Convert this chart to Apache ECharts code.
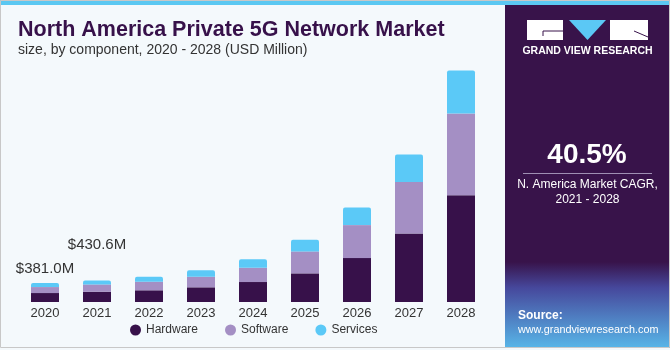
<!DOCTYPE html>
<html lang="en">
<head>
    <meta charset="UTF-8">
    <title>North America Private 5G Network Market</title>
    <script src="https://cdn.jsdelivr.net/npm/echarts@6/dist/echarts.min.js"></script>
    <style>
        html, body { margin: 0; padding: 0; background: #ffffff; }
    </style>
</head>
<body>
    <div id="main" style="width: 670px;height: 350px"></div>
    <script type="text/javascript">
        // values (USD Million)
        var years = ['2020', '2021', '2022', '2023', '2024', '2025', '2026', '2027', '2028'];
        var hardware = [180, 205, 235, 295, 401, 575, 882, 1377, 2145];
        var software = [120, 148, 172, 213, 287, 441, 662, 1035, 1638];
        var services = [81, 77.6, 100, 128, 168, 235, 355, 549, 868];
        var totalLabels = ['$381.0M', '$430.6M'];
        var labelDistance = [7, 28];

        var font = 'Liberation Sans, Arial, sans-serif';
        var myChart = echarts.init(document.getElementById('main'));

        // the top series carries the two total labels
        var servicesData = services.map(function (v, i) {
            if (i < totalLabels.length) {
                return {
                    value: v,
                    label: {
                        show: true,
                        position: 'top',
                        distance: labelDistance[i],
                        formatter: totalLabels[i],
                        color: '#333',
                        fontSize: 15,
                        fontFamily: font
                    }
                };
            }
            return v;
        });

        var option = {
            backgroundColor: '#f4f9fc',
            animation: false,
            title: {
                text: 'North America Private 5G Network Market',
                subtext: 'size, by component, 2020 - 2028 (USD Million)',
                left: 18,
                top: 20,
                padding: 0,
                itemGap: 0,
                textStyle: { color: '#37114a', fontSize: 21.5, fontWeight: 900, fontFamily: font, lineHeight: 20 },
                subtextStyle: { color: '#333', fontSize: 14, fontFamily: font, lineHeight: 16 }
            },
            legend: {
                left: 125,
                top: 319,
                icon: 'circle',
                itemWidth: 11,
                itemHeight: 11,
                itemGap: 27,
                textStyle: { color: '#333', fontSize: 12, fontFamily: font },
                data: ['Hardware', 'Software', 'Services']
            },
            grid: { left: 19, right: 183, top: 53, bottom: 48 },
            xAxis: {
                type: 'category',
                data: years,
                axisLine: { show: false },
                axisTick: { show: false },
                axisLabel: { color: '#333', fontSize: 13, margin: 5, fontFamily: font }
            },
            yAxis: {
                type: 'value',
                min: 0,
                max: 5000,
                show: false,
                splitLine: { show: false }
            },
            series: [
                { name: 'Hardware', type: 'bar', stack: 'total', barWidth: 28, data: hardware, itemStyle: { color: '#37114a' } },
                { name: 'Software', type: 'bar', stack: 'total', barWidth: 28, data: software, itemStyle: { color: '#a48fc4' } },
                { name: 'Services', type: 'bar', stack: 'total', barWidth: 28, data: servicesData, itemStyle: { color: '#5bc9f7', borderRadius: [2, 2, 0, 0] } }
            ],
            graphic: [
                // right side panel
                { type: 'rect', shape: { x: 505, y: 0, width: 165, height: 348 }, style: { fill: '#38134a' }, z: -1 },
                {
                    type: 'rect', shape: { x: 505, y: 262, width: 165, height: 86 }, z: -1,
                    style: {
                        fill: new echarts.graphic.LinearGradient(0, 0, 0, 1, [
                            { offset: 0, color: '#38134a' },
                            { offset: 0.3, color: '#46489c' },
                            { offset: 1, color: '#58b6e8' }
                        ])
                    }
                },
                // top stripe and frame
                { type: 'rect', shape: { x: 0, y: 0, width: 670, height: 5 }, style: { fill: '#5bc8f2' } },
                { type: 'rect', shape: { x: 0.5, y: 0.5, width: 669, height: 347 }, style: { fill: null, stroke: '#c8c8c8', lineWidth: 1 } },
                // logo
                { type: 'rect', shape: { x: 527, y: 20, width: 36, height: 20 }, style: { fill: '#ffffff' } },
                { type: 'polyline', shape: { points: [[543, 36], [543, 31], [563, 31]] }, style: { stroke: '#38134a', lineWidth: 1, fill: null } },
                { type: 'polygon', shape: { points: [[569, 20], [606, 20], [587.5, 40]] }, style: { fill: '#5bc8f5' } },
                { type: 'rect', shape: { x: 610, y: 20, width: 38, height: 20 }, style: { fill: '#ffffff' } },
                { type: 'line', shape: { x1: 634, y1: 31, x2: 648, y2: 37 }, style: { stroke: '#38134a', lineWidth: 1 } },
                { type: 'text', x: 587.5, y: 51, style: { text: 'GRAND VIEW RESEARCH', fill: '#ffffff', font: 'bold 10.5px ' + font, align: 'center', verticalAlign: 'middle' } },
                // CAGR block
                { type: 'text', x: 587, y: 155, style: { text: '40.5%', fill: '#ffffff', font: 'bold 28px ' + font, align: 'center', verticalAlign: 'middle' } },
                { type: 'line', shape: { x1: 523, y1: 173.5, x2: 652, y2: 173.5 }, style: { stroke: '#9f8fb3', lineWidth: 1 } },
                { type: 'text', x: 587.5, y: 185, style: { text: 'N. America Market CAGR,', fill: '#ffffff', font: '12px ' + font, align: 'center', verticalAlign: 'middle' } },
                { type: 'text', x: 587.5, y: 200, style: { text: '2021 - 2028', fill: '#ffffff', font: '12px ' + font, align: 'center', verticalAlign: 'middle' } },
                // source
                { type: 'text', x: 518, y: 316, style: { text: 'Source:', fill: '#ffffff', font: 'bold 12px ' + font, verticalAlign: 'middle' } },
                { type: 'text', x: 518, y: 330, style: { text: 'www.grandviewresearch.com', fill: '#ffffff', font: '10.8px ' + font, verticalAlign: 'middle' } }
            ]
        };
        myChart.setOption(option);
    </script>
</body>
</html>
